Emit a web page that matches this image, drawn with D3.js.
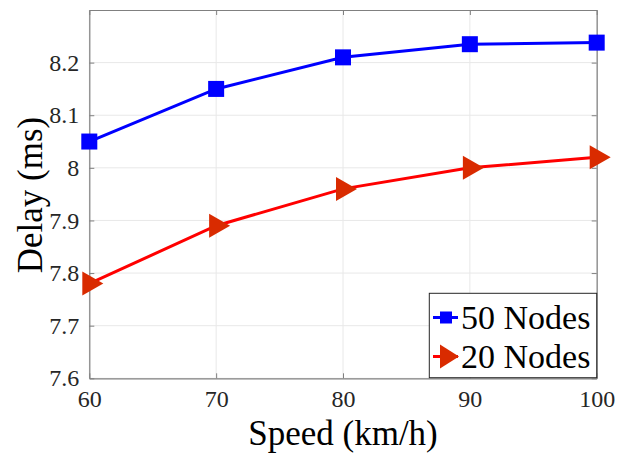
<!DOCTYPE html>
<html><head><meta charset="utf-8">
<script src="https://cdn.jsdelivr.net/npm/d3@7"></script>
<style>
body{margin:0;background:#fff}
svg{display:block}
svg text{font-family:'Liberation Serif','Times New Roman',Tinos,serif !important}
</style>
</head><body>
<script>
const speeds = [60, 70, 80, 90, 100];
const nodes50 = [8.05, 8.15, 8.21, 8.235, 8.238];
const nodes20 = [7.78, 7.89, 7.96, 8.0, 8.02];
const xTicks = [60, 70, 80, 90, 100];
const yTicks = [7.6, 7.7, 7.8, 7.9, 8.0, 8.1, 8.2];
const seriesNames = ["50 Nodes", "20 Nodes"];

const W = 627, H = 461;
const m = {l: 89.3, r: 596.7, t: 10, b: 378.3};
const svg = d3.select("body").append("svg").attr("width", W).attr("height", H);
const x = d3.scaleLinear().domain([60, 100]).range([m.l, m.r]);
const y = d3.scaleLinear().domain([7.6, 8.3]).range([m.b, m.t]);

// grid
const g = svg.append("g");
g.selectAll(".vg").data(xTicks).enter().append("line")
  .attr("x1", d => x(d)).attr("x2", d => x(d)).attr("y1", m.t).attr("y2", m.b)
  .attr("stroke", "#e8e8e8").attr("stroke-width", 1);
g.selectAll(".hg").data(yTicks).enter().append("line")
  .attr("y1", d => y(d)).attr("y2", d => y(d)).attr("x1", m.l).attr("x2", m.r)
  .attr("stroke", "#e8e8e8").attr("stroke-width", 1);

// axes
const axCol = "#808080";
const fmt = d => (Math.abs(d - 8) < 1e-9 ? "8" : d3.format(".1f")(d));
const xa = svg.append("g").attr("transform", `translate(0,${m.b})`)
  .call(d3.axisBottom(x).tickValues(xTicks).tickSizeInner(-5).tickSizeOuter(0).tickPadding(12).tickFormat(d3.format("d")));
const xt = svg.append("g").attr("transform", `translate(0,${m.t})`)
  .call(d3.axisTop(x).tickValues(xTicks).tickSizeInner(-5).tickSizeOuter(0).tickFormat(""));
const ya = svg.append("g").attr("transform", `translate(${m.l},0)`)
  .call(d3.axisLeft(y).tickValues(yTicks).tickSizeInner(-5).tickSizeOuter(0).tickPadding(10).tickFormat(fmt));
const yr = svg.append("g").attr("transform", `translate(${m.r},0)`)
  .call(d3.axisRight(y).tickValues(yTicks).tickSizeInner(-5).tickSizeOuter(0).tickFormat(""));
[xa, xt, ya, yr].forEach(a => {
  a.attr("font-family", "Times New Roman");
  a.select(".domain").attr("stroke", axCol).attr("stroke-width", 1.2);
  a.selectAll(".tick line").attr("stroke", axCol).attr("stroke-width", 1);
  a.selectAll(".tick text").attr("fill", "#262626").style("font-size", "24px");
});
xa.selectAll(".tick text").attr("dy", "0.71em");
ya.selectAll(".tick text").attr("dy", "0.32em");

// lines
const line = d3.line().x((d, i) => x(speeds[i])).y(d => y(d));
svg.append("path").datum(nodes50).attr("d", line).attr("fill", "none")
  .attr("stroke", "#0000ff").attr("stroke-width", 3);
svg.append("path").datum(nodes20).attr("d", line).attr("fill", "none")
  .attr("stroke", "#ff0000").attr("stroke-width", 3);

const sq = 16;
svg.selectAll(".sq").data(nodes50).enter().append("rect")
  .attr("x", (d, i) => x(speeds[i]) - sq / 2).attr("y", d => y(d) - sq / 2)
  .attr("width", sq).attr("height", sq).attr("fill", "#0000ff");

const triCol = "#d92b00";
function tri(cx, cy) {
  const w = 21, h = 24;
  return `M${cx - w / 3},${cy - h / 2}L${cx + 2 * w / 3},${cy}L${cx - w / 3},${cy + h / 2}Z`;
}
svg.selectAll(".tri").data(nodes20).enter().append("path")
  .attr("d", (d, i) => tri(x(speeds[i]), y(d))).attr("fill", triCol);

// legend
const lg = svg.append("g");
lg.append("rect").attr("x", 429.3).attr("y", 293.3).attr("width", 167.4).attr("height", 84.4)
  .attr("fill", "#fff").attr("stroke", "#262626").attr("stroke-width", 1);
const rows = [328.5, 367.5];
const cols = ["#0000ff", "#ff0000"];
rows.forEach((ty, i) => {
  const cy = ty - 11;
  lg.append("line").attr("x1", 433).attr("x2", 458).attr("y1", cy).attr("y2", cy)
    .attr("stroke", cols[i]).attr("stroke-width", 3);
  if (i === 0) {
    lg.append("rect").attr("x", 446 - 6).attr("y", cy - 6).attr("width", 12).attr("height", 12).attr("fill", "#0000ff");
  } else {
    lg.append("path").attr("d", `M440,${cy - 12}L459,${cy}L440,${cy + 12}Z`).attr("fill", triCol);
  }
  lg.append("text").attr("x", 461).attr("y", ty).style("font-size", "34px")
    .attr("fill", "#000").text(seriesNames[i]);
});

// axis titles
svg.append("text").attr("x", (m.l + m.r) / 2).attr("y", 445).attr("text-anchor", "middle")
  .style("font-size", "35px").attr("fill", "#000").text("Speed (km/h)");
svg.append("text").attr("transform", `translate(42,195) rotate(-90)`).attr("text-anchor", "middle")
  .style("font-size", "35px").attr("fill", "#000").text("Delay (ms)");
</script>
</body></html>
